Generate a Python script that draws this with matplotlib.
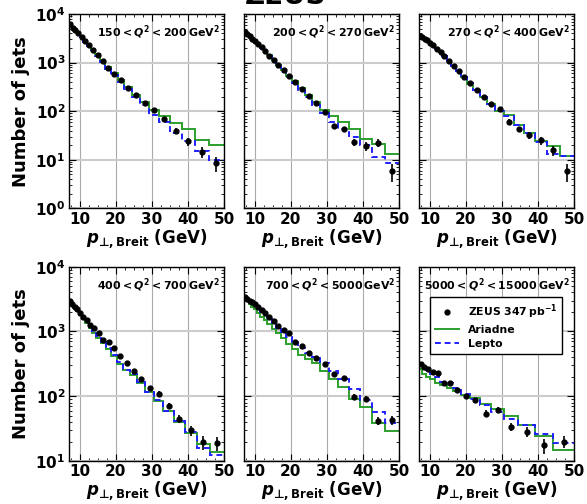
import matplotlib
matplotlib.use('Agg')
import matplotlib.pyplot as plt
from matplotlib.lines import Line2D
from matplotlib.ticker import MultipleLocator, LogLocator, NullFormatter
import numpy as np

# bin edges (GeV), log-spaced
edges22 = [7.0, 7.65, 8.37, 9.15, 10.01, 10.94, 11.97, 13.09, 14.31, 15.65, 17.11, 18.71,
           20.46, 22.37, 24.46, 26.75, 29.25, 31.98, 34.97, 38.24, 41.82, 45.73, 50.0]
edges24 = [7.0, 7.60, 8.25, 8.95, 9.71, 10.54, 11.44, 12.42, 13.48, 14.63, 15.88, 17.24,
           18.71, 20.31, 22.04, 23.92, 25.96, 28.18, 30.59, 33.20, 36.03, 39.11, 42.45, 46.07, 50.0]
edges16 = [7.0, 7.92, 8.95, 10.12, 11.44, 12.94, 14.63, 16.54, 18.70, 21.15, 23.91, 27.04,
           30.57, 34.57, 39.08, 44.19, 50.0]

q2_lo = [150, 200, 270, 400, 700, 5000]
q2_hi = [200, 270, 400, 700, 5000, 15000]

data1 = [6300, 5200, 4600, 4000, 3400, 2800, 2300, 1850, 1450, 1070, 790, 590, 430, 300, 215,
         150, 107, 70, 40, 24, 14.6, 8.6]
err1 = [90, 80, 70, 60, 55, 48, 42, 36, 30, 25, 20, 17, 14, 11, 9, 8, 8, 7, 5, 4.6, 3.5, 3.0]
ari1 = [6600, 5500, 4700, 4050, 3450, 2850, 2350, 1900, 1480, 1100, 810, 600, 440, 310, 220,
        151, 107, 81, 57, 42, 26, 20]
lep1 = [6400, 5150, 4500, 3900, 3300, 2700, 2200, 1780, 1380, 1020, 750, 560, 400, 280, 195,
        135, 85, 59, 35, 24, 15, 10]

data2 = [4200, 3800, 3450, 3100, 2800, 2400, 2050, 1700, 1380, 1120, 890, 690, 525, 400, 290,
         205, 150, 98, 49, 42, 23, 19, 22.4, 5.8]
err2 = [75, 70, 65, 60, 55, 48, 42, 36, 30, 26, 22, 18, 15, 13, 10, 9, 8, 9, 6, 5.5, 4.2, 3.9, 4.2, 2.3]
ari2 = [4350, 3900, 3500, 3150, 2850, 2450, 2100, 1750, 1420, 1150, 910, 700, 540, 410, 300,
        215, 155, 107, 81, 61, 43, 27, 21.3, 13.2]
lep2 = [4300, 3800, 3400, 3050, 2750, 2350, 2000, 1650, 1340, 1080, 850, 650, 500, 380, 275,
        195, 135, 91, 61, 43, 30, 20, 11.2, 8.7]

data3 = [3550, 3300, 3100, 2900, 2550, 2250, 1950, 1650, 1350, 1100, 850, 680, 500, 380, 270,
         195, 142, 111, 61, 42, 32, 25, 15.7, 5.8]
err3 = [70, 65, 60, 55, 50, 45, 40, 35, 30, 25, 21, 18, 15, 12, 10, 9, 8, 9, 7, 5.5, 5, 4.5, 3.5, 2.3]
ari3 = [3650, 3350, 3100, 2850, 2550, 2250, 1950, 1650, 1350, 1080, 850, 660, 500, 370, 270,
        195, 140, 100, 85, 53, 35.5, 24, 19, 11.8]
lep3 = [3650, 3350, 3100, 2850, 2550, 2250, 1950, 1650, 1350, 1080, 850, 660, 500, 375, 270,
        195, 142, 102, 79, 53, 35.5, 23, 13, 11.8]

data4 = [2950, 2650, 2400, 2200, 1900, 1700, 1480, 1260, 1120, 950, 740, 690, 550, 420, 330,
         245, 183, 132, 110, 71, 45, 29.6, 19.5, 18.8]
err4 = [60, 55, 50, 47, 42, 40, 36, 33, 30, 27, 23, 22, 20, 17, 15, 13, 11, 10, 9, 7, 6, 5, 4.5, 4.5]
ari4 = [2900, 2600, 2300, 2050, 1800, 1580, 1360, 1150, 960, 800, 660, 540, 420, 320, 250,
        215, 158, 115, 85, 59, 40, 27, 18.4, 14]
lep4 = [3000, 2680, 2400, 2150, 1880, 1650, 1420, 1200, 1000, 840, 690, 560, 440, 335, 255,
        220, 165, 118, 87, 60, 41, 28, 16, 12.6]

data5 = [3400, 3150, 2950, 2800, 2650, 2400, 2150, 1900, 1650, 1450, 1230, 1050, 950, 690, 600,
         470, 385, 310, 220, 188, 98, 91, 42, 42.5]
err5 = [65, 62, 60, 57, 55, 50, 46, 42, 38, 35, 32, 28, 27, 22, 20, 18, 16, 15, 13, 12, 9, 9, 6.5, 6.5]
ari5 = [3200, 2900, 2650, 2400, 2200, 1950, 1700, 1500, 1300, 1100, 930, 780, 640, 530, 440,
        380, 325, 245, 183, 140, 91, 68, 39, 29.5]
lep5 = [3450, 3150, 2900, 2700, 2500, 2250, 2000, 1780, 1550, 1350, 1150, 980, 820, 680, 560,
        470, 400, 325, 245, 183, 129, 87, 58, 39]

data6 = [315, 279, 263, 240, 230, 162, 158, 124, 100, 87, 54, 62, 34, 28.5, 17.5, 20]
err6 = [14, 12, 12, 11, 11, 9, 9, 8, 7, 7, 6.5, 6.5, 5, 5, 4.7, 4]
ari6 = [263, 224, 200, 183, 162, 151, 134, 120, 104, 94, 77, 63, 50, 35.5, 24, 15]
lep6 = [323, 276, 252, 218, 200, 167, 158, 132, 107, 91, 73, 57, 45, 35.5, 26.5, 18.8]

panels = [
    (edges22, data1, err1, ari1, lep1),
    (edges24, data2, err2, ari2, lep2),
    (edges24, data3, err3, ari3, lep3),
    (edges24, data4, err4, ari4, lep4),
    (edges24, data5, err5, ari5, lep5),
    (edges16, data6, err6, ari6, lep6),
]

plt.rcParams['font.family'] = 'DejaVu Sans'
plt.rcParams['font.weight'] = 'bold'
plt.rcParams['axes.labelweight'] = 'bold'
plt.rcParams['mathtext.fontset'] = 'custom'
plt.rcParams['mathtext.rm'] = 'DejaVu Sans:bold'
plt.rcParams['mathtext.it'] = 'DejaVu Sans:italic:bold'
plt.rcParams['mathtext.bf'] = 'DejaVu Sans:bold'

fig = plt.figure(figsize=(5.87, 5.04), dpi=100)
axes = fig.subplots(2, 3, sharey='row')
fig.subplots_adjust(left=0.1175, right=0.978, top=0.9722, bottom=0.0853,
                    wspace=0.129, hspace=0.30)

green = '#2ca02c'
blue = '#2020ff'

for i, ax in enumerate(axes.flat):
    edges, data, err, ari, lep = panels[i]
    edges = np.array(edges)
    centers = 0.5 * (edges[1:] + edges[:-1])
    ax.set_yscale('log')
    ax.stairs(ari, edges, color=green, lw=1.4, baseline=None)
    ax.stairs(lep, edges, color=blue, lw=1.4, ls=(0, (3, 2)), baseline=None)
    ax.errorbar(centers, data, yerr=err, fmt='o', color='black', ms=3.5, lw=1.2,
                capsize=0, zorder=5)
    ax.set_xlim(7, 50)
    ax.xaxis.set_major_locator(MultipleLocator(10))
    ax.xaxis.set_minor_locator(MultipleLocator(2.5))
    ax.yaxis.set_major_locator(LogLocator(base=10, numticks=10))
    ax.yaxis.set_minor_locator(LogLocator(base=10, subs=np.arange(2, 10), numticks=20))
    ax.yaxis.set_minor_formatter(NullFormatter())
    ax.grid(True, axis='y', which='major', color='#cccccc', lw=1.5)
    ax.grid(True, axis='x', which='major', color='#aaaaaa', lw=0.8)
    ax.set_axisbelow(True)
    ax.tick_params(which='both', direction='in', top=True, right=True, labelsize=11, pad=2.5)
    ax.tick_params(which='major', length=5)
    ax.tick_params(which='minor', length=2.5)
    for s in ax.spines.values():
        s.set_linewidth(1.0)
    ax.set_xlabel('$p_{\u22a5,\\mathrm{Breit}}$ (GeV)', fontsize=12, labelpad=0)
    ax.text(0.975, 0.95, r'$%d < Q^2 < %d\,\mathrm{GeV}^2$' % (q2_lo[i], q2_hi[i]),
            transform=ax.transAxes, ha='right', va='top', fontsize=7.9)

axes[0, 0].set_ylim(1, 1e4)
axes[1, 0].set_ylim(10, 1e4)
for ax in axes[:, 0]:
    ax.set_ylabel('Number of jets', fontsize=13)

handles = [Line2D([], [], ls='none', marker='o', color='black', ms=3.5),
           Line2D([], [], color=green, lw=1.4),
           Line2D([], [], color=blue, lw=1.4, ls=(0, (3, 2)))]
labels = [r'ZEUS 347$\,$pb$^{-1}$', 'Ariadne', 'Lepto']
leg = axes[1, 2].legend(handles, labels, loc='upper right', bbox_to_anchor=(0.96, 0.87),
                        fontsize=7.8, fancybox=False, edgecolor='black', framealpha=1,
                        handlelength=2.2, borderpad=0.5, labelspacing=0.35)
leg.get_frame().set_linewidth(1.0)

fig.text(0.486, 1 - 3.5 / 504, 'ZEUS', ha='center', va='baseline', fontsize=20, fontweight='bold')

fig.savefig('out.png', dpi=100)
